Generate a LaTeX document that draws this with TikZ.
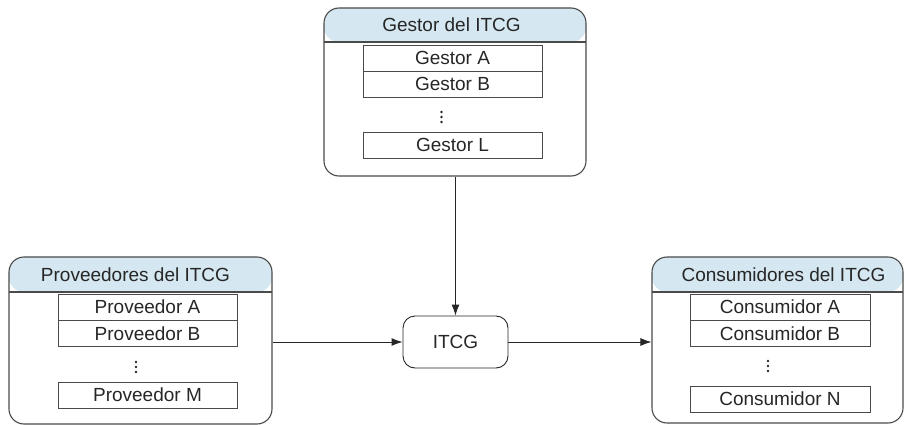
\documentclass[tikz,border=0pt]{standalone}
\usepackage{fontspec}
\setmainfont{Liberation Sans}
\usetikzlibrary{arrows.meta,calc}
\definecolor{hdr}{HTML}{D5E7F0}
\definecolor{edge}{HTML}{4A4A4A}
\definecolor{ink}{HTML}{262626}
\tikzset{
  grp/.style n args={1}{draw=edge, line width=1.1pt, rounded corners=15pt, rectangle, inner sep=0pt,
    path picture={\fill[hdr] (path picture bounding box.north west) rectangle ([yshift=-#1pt]path picture bounding box.north east);
      \draw[edge, line width=1.1pt] ([yshift=-#1pt]path picture bounding box.north west) -- ([yshift=-#1pt]path picture bounding box.north east);}},
  item/.style={draw=edge, line width=0.9pt, rectangle, minimum height=26pt, inner sep=0pt, text=ink},
  htext/.style={text=ink, inner sep=0pt},
  vdot/.style={fill=ink, draw=none, circle, inner sep=0pt, minimum size=2.6pt},
  conn/.style={draw=ink, line width=0.9pt, -{Latex[length=11pt,width=8pt]}},
}
\begin{document}
\begin{tikzpicture}[x=1pt,y=-1pt, font=\fontsize{19}{22}\selectfont]
\useasboundingbox (0,0) rectangle (905,425);
% Gestor group
\node[grp=34, minimum width=262pt, minimum height=168pt] (gestor) at (455,92) {};
\node[htext] (gestorh) at (451.5,25) {Gestor del ITCG};
\node[item, minimum width=179pt] (ga) at (452.5,58) {Gestor A};
\node[item, minimum width=179pt] (gb) at (452.5,84) {Gestor B};
\node[vdot] (gd1) at (441.5,112) {};
\node[vdot] (gd2) at (441.5,117) {};
\node[vdot] (gd3) at (441.5,122) {};
\node[item, minimum width=179pt] (gl) at (452.5,145) {Gestor L};
% Proveedores group
\node[grp=35, minimum width=263pt, minimum height=167pt] (prov) at (140.5,340.5) {};
\node[htext] (provh) at (135.5,274.5) {Proveedores del ITCG};
\node[item, minimum width=179pt] (pa) at (147.5,307) {Proveedor A};
\node[item, minimum width=179pt] (pb) at (147.5,333.5) {Proveedor B};
\node[vdot] (pd1) at (136,362) {};
\node[vdot] (pd2) at (136,367) {};
\node[vdot] (pd3) at (136,372) {};
\node[item, minimum width=179pt] (pm) at (147.5,395) {Proveedor M};
% Consumidores group
\node[grp=35, minimum width=251pt, minimum height=166pt] (cons) at (777.5,340) {};
\node[htext] (consh) at (783.5,274.5) {Consumidores del ITCG};
\node[item, minimum width=180pt] (ca) at (780,307) {Consumidor A};
\node[item, minimum width=180pt] (cb) at (780,333.5) {Consumidor B};
\node[vdot] (cd1) at (768,361) {};
\node[vdot] (cd2) at (768,366) {};
\node[vdot] (cd3) at (768,371) {};
\node[item, minimum width=180pt] (cn) at (780,399) {Consumidor N};
% ITCG
\node[draw=ink, line width=0.9pt, rounded corners=12pt, minimum width=105pt, minimum height=52pt, text=ink] (itcg) at (455.5,342) {ITCG};
% connectors
\draw[conn] (gestor.south -| itcg.north) -- (itcg.north);
\draw[conn] (prov.east |- itcg.west) -- (itcg.west);
\draw[conn] (itcg.east) -- (cons.west |- itcg.east);
\end{tikzpicture}
\end{document}
